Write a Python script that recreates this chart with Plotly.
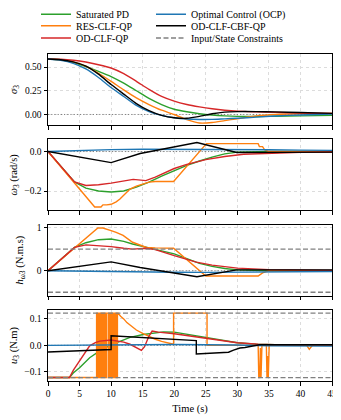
import plotly.graph_objects as go
from plotly.subplots import make_subplots

GREEN = "#2ca02c"
ORANGE = "#ff7f0e"
RED = "#d62728"
BLUE = "#1f77b4"
BLACK = "#000000"
GREY = "#808080"
FONT = "Liberation Serif"

U_MAX = 0.122
H_MAX = 0.5
t_span = [0, 45]
x_ticks = [0, 5, 10, 15, 20, 25, 30, 35, 40, 45]

# ---- sigma_3 (all five controllers on the same grid)
t_sig = [0, 2, 4, 6, 8, 10, 12, 14, 16, 18, 20, 22, 24, 26, 28, 30, 33, 36, 40, 45]
sigma_sat = [0.585, 0.577, 0.55, 0.505, 0.455, 0.40, 0.33, 0.25, 0.17, 0.105, 0.055,
             0.028, 0.008, -0.006, -0.015, -0.02, -0.021, -0.019, -0.015, -0.01]
sigma_res = [0.585, 0.575, 0.555, 0.51, 0.435, 0.35, 0.26, 0.175, 0.105, 0.045, 0.0,
             -0.055, -0.09, -0.085, -0.065, -0.045, -0.015, 0.0, 0.008, 0.01]
sigma_od = [0.585, 0.582, 0.572, 0.553, 0.525, 0.49, 0.43, 0.35, 0.265, 0.19, 0.14,
            0.105, 0.08, 0.06, 0.045, 0.035, 0.028, 0.022, 0.016, 0.01]
sigma_ocp = [0.585, 0.572, 0.54, 0.48, 0.39, 0.285, 0.19, 0.095, 0.03, -0.01, -0.035,
             -0.048, -0.053, -0.052, -0.046, -0.04, -0.028, -0.016, -0.005, 0.005]
sigma_cbf = [0.585, 0.578, 0.555, 0.51, 0.425, 0.316, 0.215, 0.115, 0.04, -0.01, -0.035,
             -0.04, -0.02, 0.008, 0.025, 0.03, 0.03, 0.027, 0.02, 0.012]

# ---- omega_3 (rad/s)
t_w_sat = [0, 4.2, 6, 8, 10, 12, 14, 16, 18, 20, 22, 24, 26, 28, 30, 35, 40, 45]
w_sat = [0, -0.154, -0.185, -0.2, -0.205, -0.2, -0.18, -0.155, -0.125, -0.096, -0.07,
         -0.048, -0.028, -0.012, -0.003, 0.0, 0.0, 0.0]
t_w_res = [0, 7.4, 8.4, 8.7, 9.3, 10.0, 10.8, 11.4, 12.2, 13, 14, 15, 16, 17, 19.9,
           25.1, 33.3, 33.5, 34.0, 34.3, 35, 45]
w_res = [0, -0.281, -0.281, -0.27, -0.27, -0.267, -0.255, -0.24, -0.215, -0.19, -0.175,
         -0.163, -0.155, -0.152, -0.152, 0.04, 0.04, 0.025, 0.025, 0.01, 0.0, 0.0]
t_w_od = [0, 4.2, 6, 8, 10, 12, 13.5, 15.5, 17, 20, 22, 25, 28, 31, 35, 40, 45]
w_od = [0, -0.154, -0.172, -0.168, -0.16, -0.148, -0.141, -0.147, -0.13, -0.086, -0.065,
        -0.041, -0.025, -0.014, -0.008, -0.004, -0.002]
t_w_ocp = [0, 5, 10, 15, 20, 25, 30, 35, 40, 45]
w_ocp = [0, 0.006, 0.01, 0.012, 0.012, 0.012, 0.011, 0.009, 0.007, 0.006]
t_w_cbf = [0, 10, 14.6, 19.8, 23.6, 29.9, 35, 45]
w_cbf = [0, -0.056, -0.01, 0.023, 0.046, -0.005, -0.004, -0.003]

# ---- h_w3 (N.m.s)
t_h_sat = [0, 4.2, 6, 8, 10, 12, 13.4, 16, 18, 20, 22, 24, 26, 28, 30, 35, 45]
h_sat = [0, 0.54, 0.65, 0.72, 0.735, 0.68, 0.62, 0.52, 0.46, 0.39, 0.28, 0.17, 0.1,
         0.05, 0.02, 0.0, 0.0]
t_h_res = [0, 7.9, 8.7, 9.2, 10, 10.8, 11.9, 13.4, 15.6, 17, 19.9, 25.0, 33.3, 34, 35, 45]
h_res = [0, 0.99, 0.99, 0.96, 0.93, 0.89, 0.82, 0.66, 0.54, 0.53, 0.52, -0.124, -0.124,
         -0.05, 0.0, 0.0]
t_h_od = [0, 4.2, 6, 8, 10, 12, 13.4, 15.6, 17, 20, 23.5, 26, 30, 35, 40, 45]
h_od = [0, 0.54, 0.6, 0.585, 0.56, 0.52, 0.5, 0.52, 0.49, 0.35, 0.2, 0.13, 0.06, 0.025,
        0.012, 0.008]
t_h_ocp = [0, 5, 10, 15, 20, 25, 30, 35, 40, 45]
h_ocp = [0, -0.012, -0.025, -0.033, -0.037, -0.038, -0.036, -0.03, -0.025, -0.02]
t_h_cbf = [0, 10, 14.6, 19.8, 23.6, 29.9, 45]
h_cbf = [0, 0.205, 0.075, -0.05, -0.14, 0.02, 0.02]

# ---- u_3 (N.m)
t_u_sat = [0, 3.4, 4, 5, 6.6, 8.2, 10, 13, 15.1, 18.3, 20, 23.5, 26.8, 30, 33, 36, 45]
u_sat = [-0.122, -0.122, -0.105, -0.085, -0.047, -0.021, 0.002, 0.03, 0.041, 0.051, 0.05,
         0.035, 0.022, 0.01, 0.004, 0.002, 0.002]
t_u_od = [0, 3.4, 4, 5, 6, 6.6, 7.5, 8.2, 10, 11.3, 12, 13, 14, 14.8, 15.3, 16, 16.5,
          17.5, 20, 23.5, 26, 30, 33.3, 36, 45]
u_od = [-0.122, -0.122, -0.095, -0.059, -0.02, -0.002, 0.01, 0.016, 0.02, 0.016, 0.012,
        0.004, -0.01, -0.019, -0.005, 0.035, 0.054, 0.05, 0.044, 0.032, 0.025, 0.01,
        0.004, 0.002, 0.002]
t_u_ocp = [0, 10, 20, 30, 35, 45]
u_ocp = [0.0, 0.002, 0.003, 0.001, -0.002, -0.003]
t_u_cbf = [0, 10, 10, 23.5, 23.5, 28.6, 29.4, 30.4, 31.2, 33.1, 33.5, 45]
u_cbf = [-0.025, -0.016, 0.036, 0.018, -0.033, -0.026, -0.018, -0.01, -0.008, -0.002,
         0.002, 0.002]
# RES-CLF-QP: bang-bang chattering (switch times), then decay and the late part
u_res_switch = [7.7, 7.8, 7.9, 8.0, 8.1, 8.2, 8.3, 8.4, 8.5, 8.6, 8.7, 8.8, 8.9,
                9.1, 9.3, 9.6, 9.7, 9.8, 9.9, 10.0,
                10.1, 10.25, 10.4, 10.55, 10.7, 10.85, 11.0]
t_u_res_tail = [11.1, 11.5, 12, 12.5, 13, 14, 15, 16, 17, 18, 19, 19.9, 19.9, 25.2, 25.2,
                33.3, 33.4, 33.55, 33.65, 33.75, 33.9, 34.6, 34.7, 34.8, 34.9, 35.05,
                41.0, 41.4, 41.9, 45]
u_res_tail = [0.122, 0.11, 0.1, 0.086, 0.076, 0.058, 0.045, 0.033, 0.023, 0.015, 0.008,
              0.004, 0.122, 0.122, 0.0, 0.0, -0.122, -0.122, -0.01, -0.122, 0.0, 0.0,
              -0.122, -0.04, -0.122, 0.0, 0.0, -0.015, 0.0, 0.0]

t_u_res, u_res = [0], [-U_MAX]
level = -U_MAX
for ts in u_res_switch:
    t_u_res += [ts, ts]
    u_res += [level, -level]
    level = -level
t_u_res += t_u_res_tail
u_res += u_res_tail

# name, colour, legend slot (two columns, three rows like the paper figure)
series = [
    ("Saturated PD", GREEN, "legend"),
    ("RES-CLF-QP", ORANGE, "legend2"),
    ("OD-CLF-QP", RED, "legend3"),
    ("Optimal Control (OCP)", BLUE, "legend4"),
    ("OD-CLF-CBF-QP", BLACK, "legend5"),
]

panels = [
    [(t_sig, sigma_sat), (t_sig, sigma_res), (t_sig, sigma_od), (t_sig, sigma_ocp), (t_sig, sigma_cbf)],
    [(t_w_sat, w_sat), (t_w_res, w_res), (t_w_od, w_od), (t_w_ocp, w_ocp), (t_w_cbf, w_cbf)],
    [(t_h_sat, h_sat), (t_h_res, h_res), (t_h_od, h_od), (t_h_ocp, h_ocp), (t_h_cbf, h_cbf)],
    [(t_u_sat, u_sat), (t_u_res, u_res), (t_u_od, u_od), (t_u_ocp, u_ocp), (t_u_cbf, u_cbf)],
]
limits = [None, None, H_MAX, U_MAX]

y_titles = [
    "<i>σ</i><sub>3</sub>",
    "<i>ω</i><sub>3</sub> (rad/s)",
    "<i>h</i><sub><i>ω</i>3</sub> (N.m.s)",
    "<i>u</i><sub>3</sub> (N.m)",
]
y_ranges = [[-0.112, 0.638], [-0.298, 0.062], [-0.58, 1.07], [-0.135, 0.134]]
y_ticks = [[0, 0.25, 0.5], [-0.2, 0.0], [0, 1], [-0.1, 0.0, 0.1]]
y_ticktext = [["0.00", "0.25", "0.50"], ["\u22120.2", "0.0"], ["0", "1"],
              ["\u22120.1", "0.0", "0.1"]]

fig = make_subplots(rows=4, cols=1, shared_xaxes=True, vertical_spacing=0.0435)

for i, data in enumerate(panels):
    row = i + 1
    # dotted zero reference
    fig.add_trace(go.Scatter(x=t_span, y=[0, 0], mode="lines", showlegend=False,
                             line=dict(color=GREY, width=1, dash="1.2px,2px")), row=row, col=1)
    for (name, color, leg), (t, v) in zip(series, data):
        fig.add_trace(go.Scatter(x=t, y=v, mode="lines", name=name,
                                 line=dict(color=color, width=1.4,
                                           shape="spline" if i == 0 else "linear",
                                           smoothing=0.6),
                                 legend=leg, showlegend=(i == 0)), row=row, col=1)

for i, lim in enumerate(limits):
    if lim is None:
        continue
    for sgn in (1, -1):
        fig.add_trace(go.Scatter(x=t_span, y=[sgn * lim, sgn * lim], mode="lines",
                                 name="Input/State Constraints",
                                 line=dict(color=GREY, width=1.3, dash="5px,2.5px"),
                                 legend="legend6",
                                 showlegend=(i == 2 and sgn == 1)), row=i + 1, col=1)

axis_font = dict(family=FONT, size=9.5, color="black")
for i in range(4):
    row = i + 1
    fig.update_yaxes(row=row, col=1, range=y_ranges[i], tickvals=y_ticks[i],
                     ticktext=y_ticktext[i], title=dict(text=y_titles[i], standoff=11,
                                                       font=dict(family=FONT, size=10.5)),
                     showline=True, mirror=True, linecolor="black", linewidth=1,
                     ticks="outside", ticklen=3.5, tickcolor="black", tickwidth=0.8,
                     showgrid=True, gridcolor="#dcdcdc", griddash="dot", gridwidth=0.8,
                     zeroline=False, tickfont=axis_font)
    fig.update_xaxes(row=row, col=1, range=[0, 45], tickvals=x_ticks,
                     showticklabels=(row == 4),
                     showline=True, mirror=True, linecolor="black", linewidth=1,
                     ticks="outside", ticklen=3.5, tickcolor="black", tickwidth=0.8,
                     showgrid=True, gridcolor="#dcdcdc", griddash="dot", gridwidth=0.8,
                     zeroline=False, tickfont=axis_font)
fig.update_xaxes(row=4, col=1, title=dict(text="Time (s)", standoff=6,
                                          font=dict(family=FONT, size=10.5)))

# the page body adds an 8px offset, so margins are shifted to keep the plot box in place
PAGE_OFF = 8
PLOT_L, PLOT_T = 48, 54
PLOT_W, PLOT_H = 284, 327
col_px = [36, 151]
row_px = [14.3, 25.7, 38]
leg_base = dict(orientation="v", xref="paper", yref="paper", xanchor="left",
                yanchor="middle", bgcolor="rgba(0,0,0,0)",
                font=dict(family=FONT, size=10, color="black"))
legends = {}
slots = ["legend", "legend2", "legend3", "legend4", "legend5", "legend6"]
for k, slot in enumerate(slots):
    c, r = divmod(k, 3)
    legends[slot] = dict(leg_base, x=(col_px[c] - PLOT_L) / PLOT_W,
                         y=1 + (PLOT_T - row_px[r]) / PLOT_H)

fig.update_layout(
    width=341, height=420,
    margin=dict(l=PLOT_L - PAGE_OFF, r=341 - PLOT_L - PLOT_W + PAGE_OFF,
                t=PLOT_T - PAGE_OFF, b=420 - PLOT_T - PLOT_H + PAGE_OFF,
                autoexpand=False),
    paper_bgcolor="white", plot_bgcolor="white",
    font=dict(family=FONT, color="black"),
    **legends,
)

fig.write_html("out.html")
